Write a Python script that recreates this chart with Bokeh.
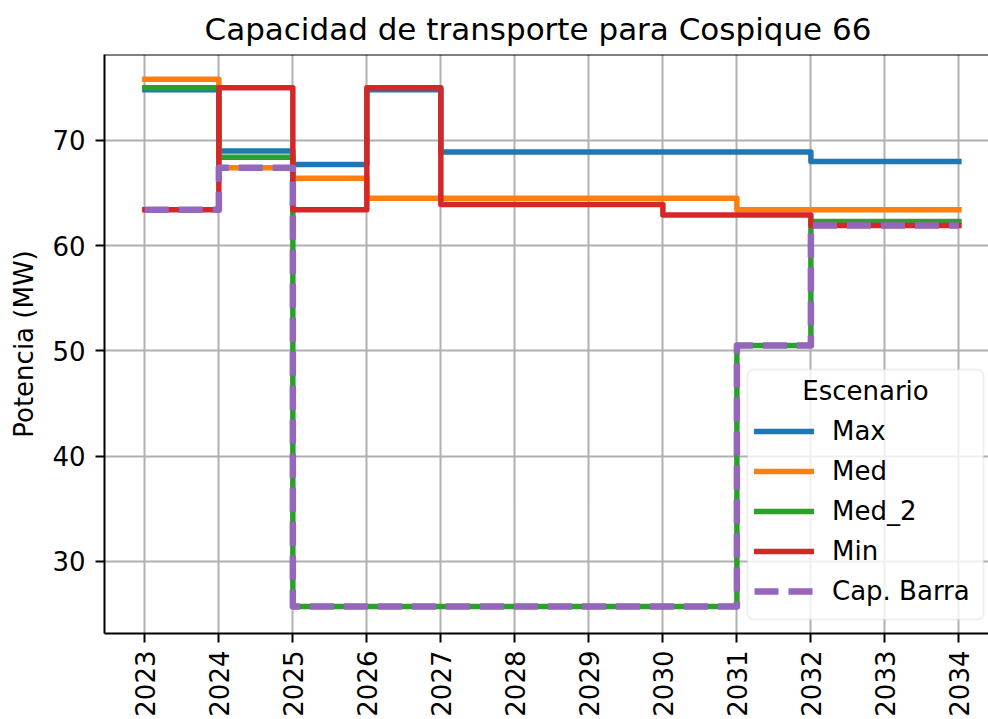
import math
from bokeh.plotting import figure
from bokeh.models import Range1d, FixedTicker, Legend, LegendItem, Label, Span, BoxAnnotation
from bokeh.embed import file_html
from bokeh.resources import INLINE

# ---- data ----
years = [2023, 2024, 2025, 2026, 2027, 2028, 2029, 2030, 2031, 2032, 2033, 2034]
x_tick_labels = [str(y) for y in years]
y_ticks = [30, 40, 50, 60, 70]

max_vals = [74.8, 69.0, 67.7, 74.8, 68.9, 68.9, 68.9, 68.9, 68.9, 68.0, 68.0, 68.0]
med_vals = [75.8, 67.4, 66.4, 64.5, 64.5, 64.5, 64.5, 64.5, 63.4, 63.4, 63.4, 63.4]
med2_vals = [75.0, 68.4, 25.7, 25.7, 25.7, 25.7, 25.7, 25.7, 50.5, 62.3, 62.3, 62.3]
min_vals = [63.4, 75.0, 63.4, 75.0, 63.9, 63.9, 63.9, 62.9, 62.9, 61.9, 61.9, 61.9]
cap_vals = [63.4, 67.4, 25.7, 25.7, 25.7, 25.7, 25.7, 25.7, 50.5, 61.9, 61.9, 61.9]

series_names = ["Max", "Med", "Med_2", "Min", "Cap. Barra"]
series_vals = [max_vals, med_vals, med2_vals, min_vals, cap_vals]
colors = ["#1f77b4", "#ff7f0e", "#2ca02c", "#d62728", "#9467bd"]

title_text = "Capacidad de transporte para Cospique 66"
y_label = "Potencia (MW)"
legend_title = "Escenario"

FONT = "DejaVu Sans"
x_start, x_end = 2022.455, 2034.40
y_start, y_end = 23.14, 78.16

p = figure(width=988, height=719,
           x_range=Range1d(x_start, x_end), y_range=Range1d(y_start, y_end),
           output_backend="svg", toolbar_location=None,
           min_border_left=104, min_border_right=0,
           min_border_top=53, min_border_bottom=86)

p.background_fill_color = "white"
p.border_fill_color = "white"
p.outline_line_color = None

# title
p.title.text = title_text
p.title.text_font = FONT
p.title.text_font_size = "31px"
p.title.text_font_style = "normal"
p.title.text_color = "black"
p.title.align = "left"
p.title.offset = 100
p.title.standoff = 16

# axes
xt = FixedTicker(ticks=years)
yt = FixedTicker(ticks=y_ticks)
p.xaxis.ticker = xt
p.yaxis.ticker = yt
p.xgrid.ticker = xt
p.ygrid.ticker = yt
p.xaxis.major_label_overrides = {y: s for y, s in zip(years, x_tick_labels)}
p.xaxis.major_label_orientation = math.pi / 2

for ax in (p.xaxis, p.yaxis):
    ax.axis_line_color = "black"
    ax.axis_line_width = 2
    ax.major_tick_line_color = "black"
    ax.major_tick_line_width = 2
    ax.major_tick_out = 9
    ax.major_tick_in = 0
    ax.minor_tick_line_color = None
    ax.major_label_text_font = FONT
    ax.major_label_text_font_size = "26px"
    ax.major_label_text_color = "black"

p.xaxis.major_label_standoff = 8
p.yaxis.major_label_standoff = 10
p.yaxis.axis_label = y_label
p.yaxis.axis_label_text_font = FONT
p.yaxis.axis_label_text_font_size = "26px"
p.yaxis.axis_label_text_font_style = "normal"
p.yaxis.axis_label_text_color = "black"
p.yaxis.axis_label_standoff = 10

p.grid.grid_line_color = "#b0b0b0"
p.grid.grid_line_width = 2

# top spine
p.add_layout(Span(location=y_end, dimension="width", line_color="black", line_width=2))

# lines
items = []
for name, vals, col in zip(series_names, series_vals, colors):
    if name == "Cap. Barra":
        r = p.step(years, vals, mode="after", line_color=col, line_width=6.5,
                   line_dash="24 10", line_join="round")
    else:
        r = p.step(years, vals, mode="after", line_color=col, line_width=5.5,
                   line_join="round", line_cap="square")
    items.append(LegendItem(label=name, renderers=[r]))

# legend frame (semi-transparent, rounded)
p.add_layout(BoxAnnotation(left=643, right=879, bottom=14, top=264,
                           left_units="screen", right_units="screen",
                           bottom_units="screen", top_units="screen",
                           fill_color="white", fill_alpha=0.8,
                           line_color="#cccccc", line_width=2,
                           border_radius=6))

legend = Legend(items=items, location=(650, 25))
legend.title = " "
legend.title_text_font_size = "26px"
legend.title_standoff = 6
legend.label_text_font = FONT
legend.label_text_font_size = "26px"
legend.label_text_color = "black"
legend.glyph_width = 60
legend.glyph_height = 34
legend.label_height = 34
legend.label_standoff = 18
legend.spacing = 6
legend.padding = 0
legend.margin = 0
legend.border_line_color = None
legend.background_fill_color = None
legend.background_fill_alpha = 0
p.add_layout(legend)

p.add_layout(Label(x=761, y=243, x_units="screen", y_units="screen",
                   text=legend_title, text_align="center", text_baseline="middle",
                   text_font=FONT, text_font_size="26px", text_color="black",
                   level="overlay"))

open("out.html", "w").write(file_html(p, INLINE))
